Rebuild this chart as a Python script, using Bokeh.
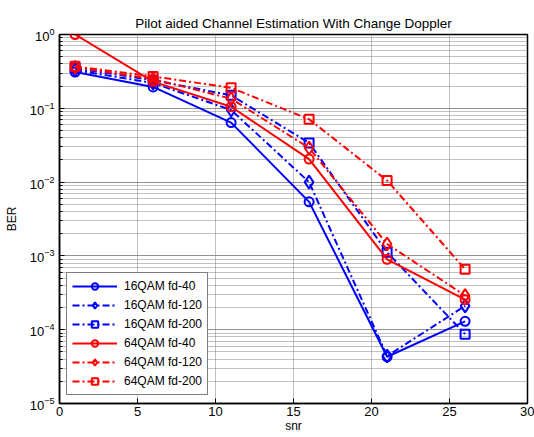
from bokeh.plotting import figure
from bokeh.models import Range1d, Legend, LegendItem, LogTicker, FixedTicker
from bokeh.embed import file_html
from bokeh.resources import INLINE

# ---- data ----
snr = [1, 6, 11, 16, 21, 26]
ber_16qam_fd40 = [0.31, 0.195, 0.064, 0.0054, 4.3e-5, 1.3e-4]
ber_16qam_fd120 = [0.33, 0.22, 0.095, 0.0100, 4.4e-5, 2.1e-4]
ber_16qam_fd200 = [0.35, 0.24, 0.15, 0.034, 1.12e-3, 8.7e-5]
ber_64qam_fd40 = [1.0, 0.23, 0.105, 0.0205, 9.0e-4, 2.55e-4]
ber_64qam_fd120 = [0.36, 0.25, 0.135, 0.029, 1.45e-3, 2.9e-4]
ber_64qam_fd200 = [0.37, 0.27, 0.19, 0.071, 0.0105, 6.6e-4]
series_labels = ["16QAM fd-40", "16QAM fd-120", "16QAM fd-200",
                 "64QAM fd-40", "64QAM fd-120", "64QAM fd-200"]
x_ticks = [0, 5, 10, 15, 20, 25, 30]
title_text = "Pilot aided Channel Estimation With Change Doppler"

FONT = "Liberation Sans"
BLUE = "#0000ff"
RED = "#ff0000"
DASHDOT = "7 3 2 3"

p = figure(width=534, height=437,
           x_range=Range1d(0, 30), y_range=Range1d(1e-5, 1),
           y_axis_type="log", output_backend="svg", toolbar_location=None,
           min_border_left=59, min_border_right=7,
           min_border_top=34, min_border_bottom=34,
           title=title_text)
p.background_fill_color = "white"
p.border_fill_color = "white"
p.outline_line_color = "black"
p.outline_line_width = 1.5

p.title.align = "center"
p.title.text_font = FONT
p.title.text_font_size = "13.5px"
p.title.text_font_style = "normal"
p.title.text_color = "black"
p.title.standoff = 7

# axes
p.xaxis.ticker = FixedTicker(ticks=x_ticks)
p.yaxis.ticker = LogTicker(num_minor_ticks=10)
for ax in (p.xaxis, p.yaxis):
    ax.axis_line_color = "black"
    ax.axis_line_width = 1.5
    ax.major_tick_in = 5
    ax.major_tick_out = 0
    ax.minor_tick_in = 3
    ax.minor_tick_out = 0
    ax.major_tick_line_color = "black"
    ax.minor_tick_line_color = "black"
    ax.major_label_text_font = FONT
    ax.major_label_text_font_size = "13px"
    ax.major_label_text_color = "black"
    ax.axis_label_text_font = FONT
    ax.axis_label_text_font_size = "12px"
    ax.axis_label_text_font_style = "normal"
    ax.axis_label_text_color = "black"
p.xaxis.minor_tick_line_color = None
p.xaxis.major_label_standoff = 3
p.xaxis.axis_label = "snr"
p.xaxis.axis_label_standoff = 0
p.yaxis.major_label_standoff = 5
p.yaxis.axis_label = "BER"
p.yaxis.axis_label_standoff = 8

# grids
p.xgrid.grid_line_color = "#808080"
p.xgrid.grid_line_dash = "1 1"
p.ygrid.grid_line_color = "#808080"
p.ygrid.grid_line_dash = "1 1"
p.ygrid.minor_grid_line_color = "#808080"
p.ygrid.minor_grid_line_dash = "1 1"

# series
specs = [
    (ber_16qam_fd40, BLUE, "solid", "circle", 9),
    (ber_16qam_fd120, BLUE, DASHDOT, "diamond", 13),
    (ber_16qam_fd200, BLUE, DASHDOT, "square", 9),
    (ber_64qam_fd40, RED, "solid", "circle", 9),
    (ber_64qam_fd120, RED, DASHDOT, "diamond", 13),
    (ber_64qam_fd200, RED, DASHDOT, "square", 9),
]
items = []
for (ys, col, dash, marker, size), lab in zip(specs, series_labels):
    lr = p.line(snr, ys, line_color=col, line_width=2, line_dash=dash)
    sr = p.scatter(snr, ys, marker=marker, size=size, line_color=col,
                   line_width=2, fill_color=None)
    items.append(LegendItem(label=lab, renderers=[lr, sr]))

legend = Legend(items=items, location=(7, 8))
legend.label_text_font = FONT
legend.label_text_font_size = "12px"
legend.label_text_color = "black"
legend.glyph_width = 45
legend.glyph_height = 16
legend.label_height = 16
legend.spacing = 3
legend.padding = 5
legend.margin = 0
legend.label_standoff = 7
legend.border_line_color = "black"
legend.border_line_width = 1.5
legend.background_fill_color = "white"
legend.background_fill_alpha = 1.0
p.add_layout(legend)

open("out.html", "w").write(file_html(p, INLINE))
